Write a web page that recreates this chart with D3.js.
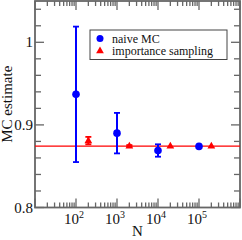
<!DOCTYPE html>
<html>
<head>
<meta charset="utf-8">
<script src="https://cdn.jsdelivr.net/npm/d3@7"></script>
<style>
  body { margin: 0; background: #fff; }
  svg { display: block; font-family: "Liberation Serif", "DejaVu Serif", serif; }
</style>
</head>
<body>
<div id="chart"></div>
<script>
// naive MC
const naiveN = [100, 1000, 10000, 100000];
const naiveVal = [0.937, 0.890, 0.869, 0.874];
const naiveErr = [0.082, 0.0245, 0.0075, 0.0];
// importance sampling
const impN = [200, 2000, 20000, 200000];
const impVal = [0.881, 0.8748, 0.8748, 0.8748];
const impErr = [0.0045, 0.0008, 0.0, 0.0];
const exactVal = 0.8744;
const xTickLabels = ["2", "3", "4", "5"];
const yTicks = [0.8, 0.9, 1.0];
const yTickLabels = ["0.8", "0.9", "1"];

const W = 242, H = 240;
const margin = { top: 1, right: 2, bottom: 32.5, left: 35 };
const width = W - margin.left - margin.right,
  height = H - margin.top - margin.bottom;

const svg = d3.select("#chart").append("svg")
  .attr("width", W).attr("height", H);
const g = svg.append("g")
  .attr("transform", "translate(" + margin.left + "," + margin.top + ")");

const x = d3.scaleLog().domain([10, 1e6]).range([0, width]);
const y = d3.scaleLinear().domain([0.8, 1.05]).range([height, 0]);

const frameColor = "#666";

// minor / major ticks on x (log)
const xMajor = [10, 100, 1000, 10000, 100000, 1000000];
let xMinor = [];
for (let d = 10; d < 1e6; d *= 10)
  for (let k = 2; k <= 9; k++) xMinor.push(d * k);
const yMinor = d3.range(0.82, 1.05, 0.02).filter(v => Math.abs(v - 0.9) > 1e-6 && Math.abs(v - 1.0) > 1e-6);

function drawTicks(vals, len, horiz) {
  vals.forEach(v => {
    if (horiz) {
      const px = x(v);
      g.append("line").attr("x1", px).attr("x2", px).attr("y1", height).attr("y2", height - len)
        .attr("stroke", frameColor).attr("stroke-width", 1.3);
      g.append("line").attr("x1", px).attr("x2", px).attr("y1", 0).attr("y2", len)
        .attr("stroke", frameColor).attr("stroke-width", 1.3);
    } else {
      const py = y(v);
      g.append("line").attr("x1", 0).attr("x2", len).attr("y1", py).attr("y2", py)
        .attr("stroke", frameColor).attr("stroke-width", 1.3);
      g.append("line").attr("x1", width).attr("x2", width - len).attr("y1", py).attr("y2", py)
        .attr("stroke", frameColor).attr("stroke-width", 1.3);
    }
  });
}
drawTicks(xMajor, 9, true);
drawTicks(xMinor, 5, true);
drawTicks(yTicks, 9, false);
drawTicks(yMinor, 6, false);

// frame
g.append("rect").attr("x", 0).attr("y", 0).attr("width", width).attr("height", height)
  .attr("fill", "none").attr("stroke", frameColor).attr("stroke-width", 1.8);

// y labels
g.selectAll(".ylab").data(yTicks).enter().append("text")
  .attr("x", -2).attr("y", d => y(d) + 5)
  .attr("text-anchor", "end").style("font-size", "15px").attr("fill", "#111")
  .text((d, i) => yTickLabels[i]);

// x labels 10^n
[100, 1000, 10000, 100000].forEach((v, i) => {
  const t = g.append("text").attr("x", x(v) - 2).attr("y", height + 16)
    .attr("text-anchor", "middle").style("font-size", "15px").attr("fill", "#111");
  t.append("tspan").text("10");
  t.append("tspan").attr("dy", -6).style("font-size", "10px").text(xTickLabels[i]);
});

// axis titles
g.append("text").attr("x", width / 2).attr("y", height + 28)
  .attr("text-anchor", "middle").style("font-size", "15px").attr("fill", "#111").text("N");
svg.append("text").attr("transform", "translate(12," + (margin.top + height / 2) + ") rotate(-90)")
  .attr("text-anchor", "middle").style("font-size", "15px").attr("fill", "#111").text("MC estimate");

// reference line
g.append("line").attr("x1", 0).attr("x2", width).attr("y1", y(exactVal)).attr("y2", y(exactVal))
  .attr("stroke", "#ff0000").attr("stroke-width", 1.3);

function errBars(ns, vals, errs, color) {
  ns.forEach((n, i) => {
    if (errs[i] <= 0) return;
    const px = x(n), y0 = y(vals[i] - errs[i]), y1 = y(vals[i] + errs[i]);
    g.append("line").attr("x1", px).attr("x2", px).attr("y1", y0).attr("y2", y1)
      .attr("stroke", color).attr("stroke-width", 2);
    [y0, y1].forEach(yy => g.append("line").attr("x1", px - 3).attr("x2", px + 3)
      .attr("y1", yy).attr("y2", yy).attr("stroke", color).attr("stroke-width", 1.8));
  });
}
errBars(naiveN, naiveVal, naiveErr, "#0000ff");
errBars(impN, impVal, impErr, "#ff0000");

const tri = d3.symbol().type(d3.symbolTriangle).size(26);

g.selectAll(".naive").data(naiveN).enter().append("circle")
  .attr("cx", d => x(d)).attr("cy", (d, i) => y(naiveVal[i])).attr("r", 3.8)
  .attr("fill", "#0000ff");
g.selectAll(".imp").data(impN).enter().append("path")
  .attr("d", tri)
  .attr("transform", (d, i) => "translate(" + x(d) + "," + (y(impVal[i]) + 0.5) + ")")
  .attr("fill", "#ff0000");

// legend
const leg = svg.append("g").attr("transform", "translate(90,30)");
leg.append("rect").attr("width", 137).attr("height", 29.5)
  .attr("fill", "#fff").attr("stroke", "#444").attr("stroke-width", 1);
leg.append("circle").attr("cx", 10).attr("cy", 8.5).attr("r", 3.5).attr("fill", "#0000ff");
leg.append("path").attr("d", tri).attr("transform", "translate(10,21)").attr("fill", "#ff0000");
leg.append("text").attr("x", 22).attr("y", 12.5).style("font-size", "12px").attr("fill", "#111").text("naive MC");
leg.append("text").attr("x", 22).attr("y", 25).style("font-size", "12px").attr("fill", "#111").text("importance sampling");
</script>
</body>
</html>
